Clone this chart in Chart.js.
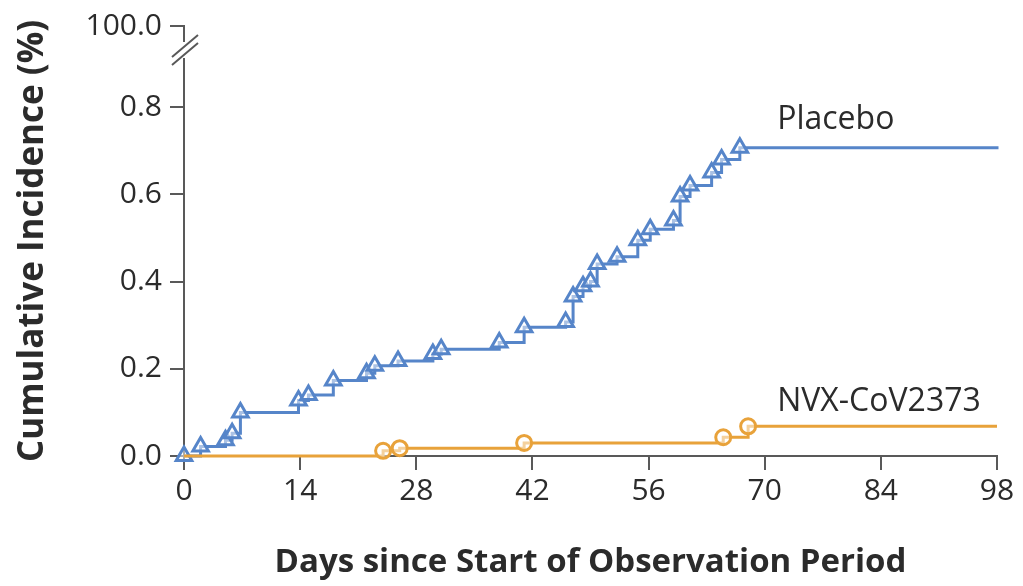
<!DOCTYPE html>
<html>
<head>
<meta charset="utf-8">
<script src="https://cdn.jsdelivr.net/npm/chart.js@4/dist/chart.umd.min.js"></script>
<style>
  html, body { margin: 0; padding: 0; background: #fff; }
  #wrap { width: 1023px; height: 586px; }
</style>
</head>
<body>
<div id="wrap"><canvas id="myChart" width="1023" height="586"></canvas></div>
<script>
// Dados
var xTicks = [0, 14, 28, 42, 56, 70, 84, 98];
var yTicks = [0.0, 0.2, 0.4, 0.6, 0.8];
var topTickLabel = '100.0';

var placeboDays = [0, 2, 5, 5.8, 6.8, 13.8, 15, 18, 22, 23, 25.8, 30, 31, 38, 41, 46, 46.9, 48.1, 49, 49.8, 52.2, 54.7, 56.2, 59, 59.8, 61, 63.6, 64.8, 67, 98];
var placeboInc = [0, 0.022, 0.036, 0.052, 0.10, 0.127, 0.14, 0.173, 0.19, 0.207, 0.218, 0.234, 0.245, 0.26, 0.295, 0.307, 0.366, 0.389, 0.40, 0.44, 0.457, 0.495, 0.52, 0.54, 0.595, 0.62, 0.65, 0.68, 0.707, 0.71];

var nvxDays = [0, 24, 26, 41, 65, 68, 98];
var nvxInc = [0, 0.012, 0.018, 0.03, 0.043, 0.068, 0.068];

var blue = '#5685c9';
var orange = '#e8a23a';
var axisColor = '#595959';
var textColor = '#2b2b2b';
var fontFam = '"Open Sans", Lato, sans-serif';

function pts(xs, ys) {
    return xs.map(function (x, i) { return { x: x, y: ys[i] }; });
}
// marcadores só nos degraus (não no último ponto; opcionalmente nem no primeiro)
function radii(n, r, skipFirst) {
    var a = [];
    for (let i = 0; i < n; i++) a.push((i === n - 1 || (skipFirst && i === 0)) ? 0 : r);
    return a;
}

// Rótulos das séries e quebra do eixo
const extras = {
    id: 'extras',
    afterDraw(chart) {
        const ctx = chart.ctx;
        const xs = chart.scales.x, ys = chart.scales.y;
        const left = chart.chartArea.left;
        ctx.save();
        // quebra no eixo y
        ctx.fillStyle = '#fff';
        ctx.fillRect(left - 4, 42, 8, 16);
        ctx.strokeStyle = axisColor;
        ctx.lineWidth = 2;
        ctx.beginPath();
        ctx.moveTo(left - 12, 57); ctx.lineTo(left + 14, 35);
        ctx.moveTo(left - 12, 65); ctx.lineTo(left + 14, 43);
        ctx.stroke();
        // nomes das séries
        ctx.fillStyle = textColor;
        ctx.font = '32px ' + fontFam;
        ctx.textAlign = 'left';
        ctx.textBaseline = 'middle';
        ctx.fillText('Placebo', xs.getPixelForValue(71.5), ys.getPixelForValue(0.77));
        ctx.fillText('NVX-CoV2373', xs.getPixelForValue(71.5), ys.getPixelForValue(0.123));
        ctx.restore();
    }
};

const ctx = document.getElementById('myChart').getContext('2d');
const myChart = new Chart(ctx, {
    type: 'line',
    data: {
        datasets: [
            {
                label: 'NVX-CoV2373',
                data: pts(nvxDays, nvxInc),
                borderColor: orange,
                borderWidth: 3,
                stepped: true,
                clip: false,
                pointStyle: 'circle',
                pointRadius: radii(nvxDays.length, 7.5, true),
                pointBorderWidth: 3,
                pointBorderColor: orange,
                pointBackgroundColor: 'rgba(255,255,255,0.5)'
            },
            {
                label: 'Placebo',
                data: pts(placeboDays, placeboInc),
                borderColor: blue,
                borderWidth: 3,
                stepped: true,
                clip: false,
                pointStyle: 'triangle',
                pointRadius: radii(placeboDays.length, 9, false),
                pointBorderWidth: 3,
                pointBorderColor: blue,
                pointBackgroundColor: 'rgba(255,255,255,0.5)'
            }
        ]
    },
    options: {
        responsive: false,
        animation: false,
        layout: { padding: { top: 22, right: 26, left: 0, bottom: 0 } },
        scales: {
            x: {
                type: 'linear',
                min: 0,
                max: 98,
                afterBuildTicks: function (s) { s.ticks = xTicks.map(function (v) { return { value: v }; }); },
                afterFit: function (s) { s.height = 130; },
                border: { display: true, color: axisColor, width: 2 },
                grid: { drawOnChartArea: false, drawTicks: true, tickLength: 14, color: axisColor, lineWidth: 2 },
                ticks: { color: textColor, font: { family: fontFam, size: 30 }, padding: 3 },
                title: {
                    display: true,
                    text: 'Days since Start of Observation Period',
                    color: textColor,
                    font: { family: fontFam, size: 33, weight: 'bold' },
                    padding: { top: 20, bottom: 4 }
                }
            },
            y: {
                min: 0,
                max: 0.986,
                afterBuildTicks: function (s) {
                    var t = yTicks.map(function (v) { return { value: v }; });
                    t.push({ value: s.max, label: topTickLabel });
                    s.ticks = t;
                },
                afterFit: function (s) { s.width = 184; },
                border: { display: true, color: axisColor, width: 2 },
                grid: { drawOnChartArea: false, drawTicks: true, tickLength: 14, color: axisColor, lineWidth: 2 },
                ticks: {
                    color: textColor,
                    font: { family: fontFam, size: 30 },
                    padding: 8,
                    callback: function (v) { return v > 0.9 ? topTickLabel : v.toFixed(1); }
                },
                title: {
                    display: true,
                    text: 'Cumulative Incidence (%)',
                    color: textColor,
                    font: { family: fontFam, size: 35, weight: 'bold' },
                    padding: { top: 12, bottom: 0 }
                }
            }
        },
        plugins: {
            legend: { display: false },
            tooltip: { enabled: false }
        }
    },
    plugins: [extras]
});
</script>
</body>
</html>
